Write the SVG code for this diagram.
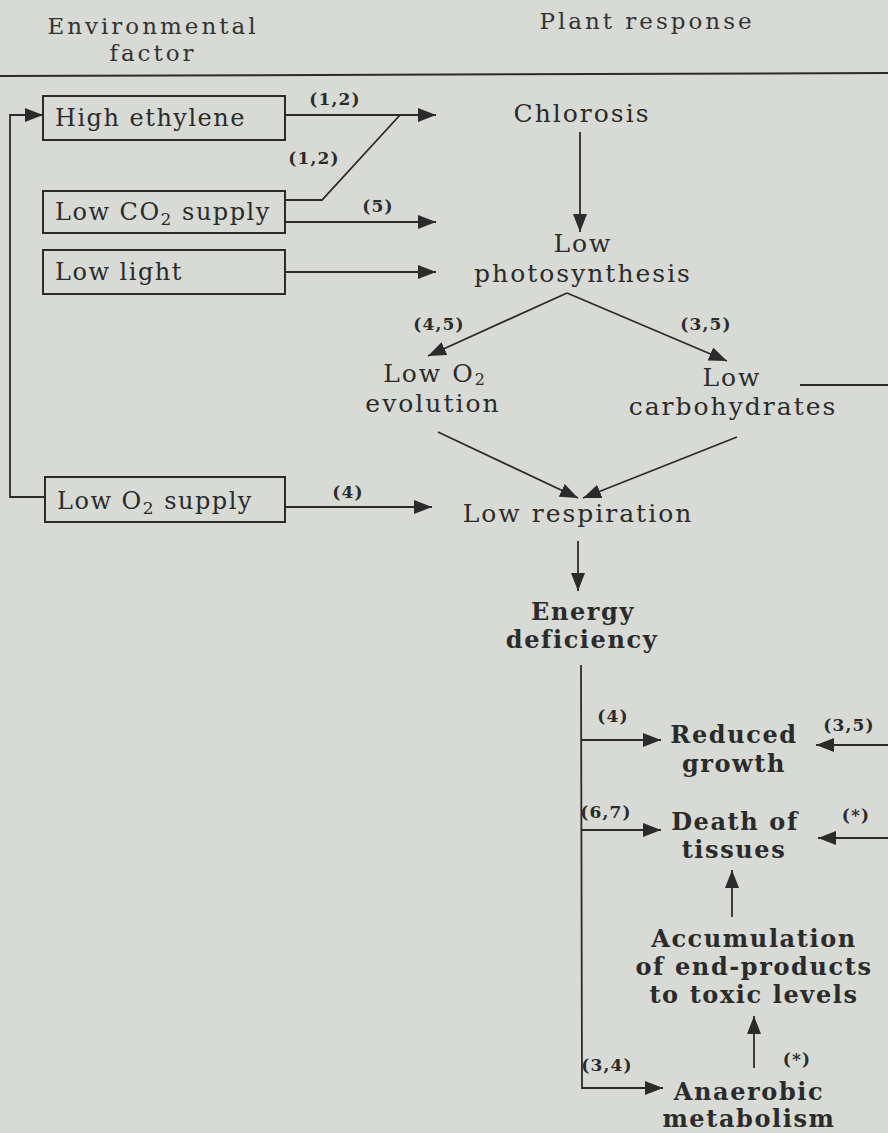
<svg xmlns="http://www.w3.org/2000/svg" width="888" height="1133" viewBox="0 0 888 1133">
<defs>
<marker id="ah" markerUnits="userSpaceOnUse" markerWidth="20" markerHeight="14" refX="18" refY="7" orient="auto">
<path d="M0,0 L18,7 L0,14 Z" fill="#2b2b2b"/>
</marker>
<style>
.t{font-family:"DejaVu Serif","Liberation Serif",serif;font-size:25px;letter-spacing:2px;fill:#2b2b2b}
.x{font-size:24px;letter-spacing:1.5px}
.h{font-family:"DejaVu Serif","Liberation Serif",serif;font-size:23px;letter-spacing:3px;fill:#333}
.b{font-weight:bold;font-size:24px;letter-spacing:1.6px}
.l{font-family:"DejaVu Serif","Liberation Serif",serif;font-size:17px;letter-spacing:1.2px;fill:#2b2b2b;font-weight:bold}
.box{fill:none;stroke:#2b2b2b;stroke-width:2}
.c{fill:none;stroke:#2b2b2b;stroke-width:1.8}
.a{fill:none;stroke:#2b2b2b;stroke-width:1.8;marker-end:url(#ah)}
.m{text-anchor:middle}
</style>
</defs>
<rect width="888" height="1133" fill="#d8dad5"/>

<g id="header">
<text class="h m" x="153" y="34">Environmental</text>
<text class="h m" x="153" y="61">factor</text>
<text class="h m" x="647" y="29">Plant response</text>
<line x1="0" y1="76" x2="888" y2="73" stroke="#2b2b2b" stroke-width="2"/>
</g>

<g id="high-ethylene"><rect class="box" x="43" y="96" width="242" height="44"/><text class="t x" x="55" y="126">High ethylene</text></g>
<g id="low-co2"><rect class="box" x="43" y="191" width="242" height="42"/><text class="t x" x="55" y="220">Low CO<tspan font-size="17" dy="5">2</tspan><tspan dy="-5"> supply</tspan></text></g>
<g id="low-light"><rect class="box" x="43" y="250" width="242" height="44"/><text class="t x" x="55" y="280">Low light</text></g>
<g id="low-o2-supply"><rect class="box" x="45" y="477" width="240" height="45"/><text class="t x" x="57" y="509">Low O<tspan font-size="17" dy="5">2</tspan><tspan dy="-5"> supply</tspan></text></g>

<g id="chlorosis"><text class="t m" x="582" y="122">Chlorosis</text></g>
<g id="low-photosynthesis"><text class="t m" x="583" y="252">Low</text><text class="t m" x="583" y="282">photosynthesis</text></g>
<g id="low-o2-evolution"><text class="t m" x="435" y="382">Low O<tspan font-size="16" dy="3">2</tspan></text><text class="t m" x="433" y="412">evolution</text></g>
<g id="low-carbohydrates"><text class="t m" x="732" y="386">Low</text><text class="t m" x="733" y="415">carbohydrates</text></g>
<g id="low-respiration"><text class="t m" x="578" y="522">Low respiration</text></g>
<g id="energy-deficiency"><text class="t m b" x="583" y="620">Energy</text><text class="t m b" x="582" y="648">deficiency</text></g>
<g id="reduced-growth"><text class="t m b" x="734" y="743">Reduced</text><text class="t m b" x="734" y="772">growth</text></g>
<g id="death-of-tissues"><text class="t m b" x="735" y="830">Death of</text><text class="t m b" x="734" y="858">tissues</text></g>
<g id="accumulation"><text class="t m b" x="754" y="947">Accumulation</text><text class="t m b" x="754" y="975">of end-products</text><text class="t m b" x="754" y="1003">to toxic levels</text></g>
<g id="anaerobic-metabolism"><text class="t m b" x="749" y="1100">Anaerobic</text><text class="t m b" x="749" y="1127">metabolism</text></g>

<g id="connectors">
<polyline class="a" points="45,497 10,497 10,115 43,115"/>
<line class="a" x1="285" y1="115" x2="436" y2="115"/>
<polyline class="c" points="285,200 322,200 400,115"/>
<line class="a" x1="285" y1="222" x2="436" y2="222"/>
<line class="a" x1="285" y1="272" x2="436" y2="272"/>
<line class="a" x1="580" y1="132" x2="580" y2="232"/>
<line class="a" x1="567" y1="293" x2="428" y2="356"/>
<line class="a" x1="567" y1="293" x2="727" y2="361"/>
<line class="c" x1="800" y1="385" x2="888" y2="385"/>
<line class="a" x1="438" y1="432" x2="578" y2="498"/>
<line class="a" x1="737" y1="437" x2="583" y2="498"/>
<line class="a" x1="285" y1="507" x2="432" y2="507"/>
<line class="a" x1="578" y1="541" x2="578" y2="591"/>
<polyline class="a" points="581,665 582,1088 663,1088"/>
<line class="a" x1="581" y1="740" x2="661" y2="740"/>
<line class="a" x1="581" y1="830" x2="661" y2="830"/>
<line class="a" x1="888" y1="745" x2="816" y2="745"/>
<line class="a" x1="888" y1="838" x2="818" y2="838"/>
<line class="a" x1="732" y1="917" x2="732" y2="870"/>
<line class="a" x1="754" y1="1068" x2="754" y2="1016"/>
</g>

<g id="labels">
<text class="l m" x="335" y="105">(1,2)</text>
<text class="l m" x="314" y="164">(1,2)</text>
<text class="l m" x="378" y="212">(5)</text>
<text class="l m" x="439" y="330">(4,5)</text>
<text class="l m" x="706" y="330">(3,5)</text>
<text class="l m" x="348" y="498">(4)</text>
<text class="l m" x="613" y="722">(4)</text>
<text class="l m" x="849" y="731">(3,5)</text>
<text class="l m" x="606" y="818">(6,7)</text>
<text class="l m" x="856" y="821">(*)</text>
<text class="l m" x="797" y="1065">(*)</text>
<text class="l m" x="607" y="1071">(3,4)</text>
</g>
</svg>
